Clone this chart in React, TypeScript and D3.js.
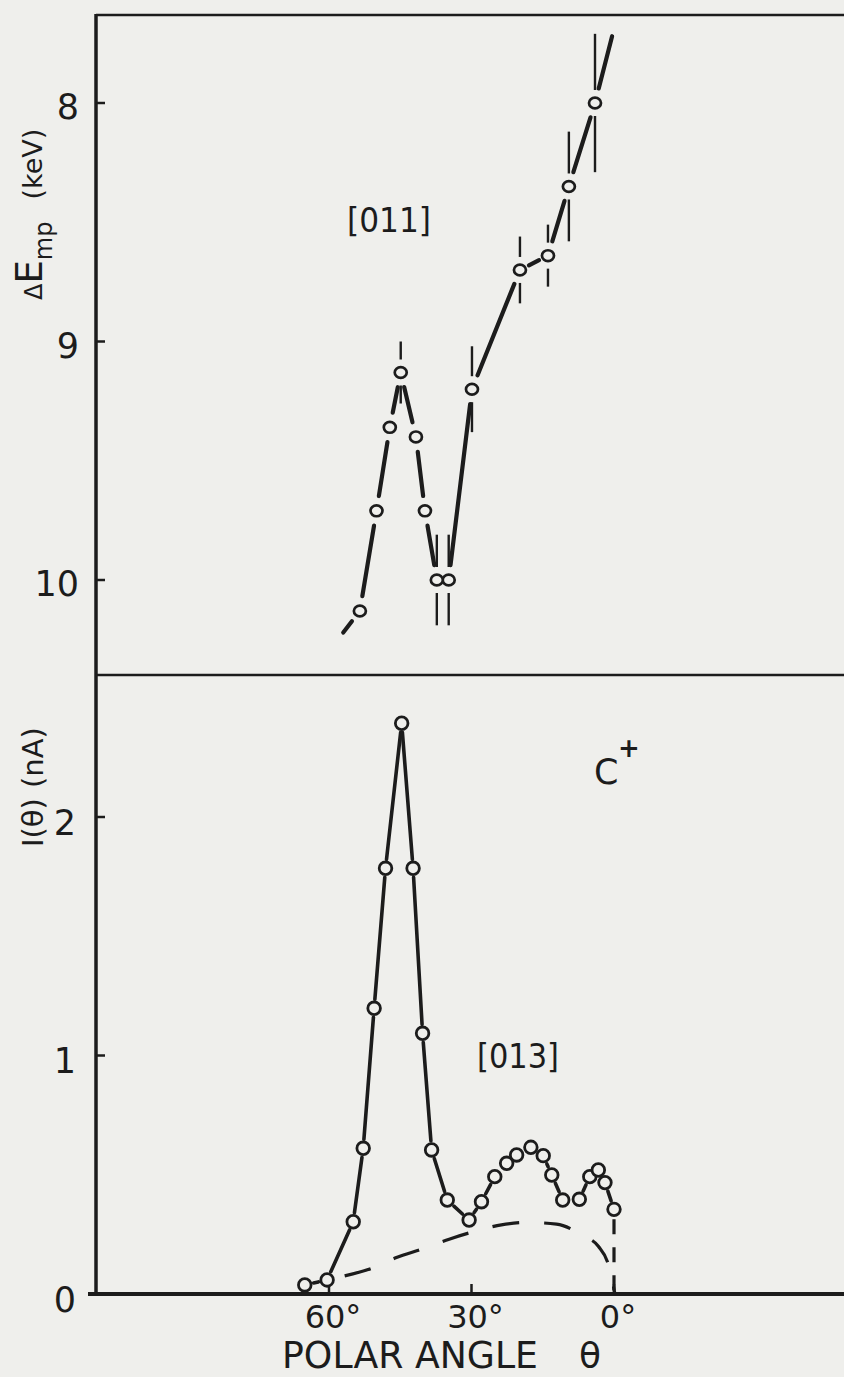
import React, { useEffect, useRef } from "react";
import * as d3 from "d3";

// upper panel: most probable energy loss vs polar angle, [011] channel
const upperTheta = [4.0, 9.5, 13.9, 19.8, 29.9, 34.8, 37.3, 39.8, 41.7, 44.9, 47.2, 50.0, 53.5];
const upperEnergy = [8.0, 8.35, 8.64, 8.7, 9.2, 10.0, 10.0, 9.71, 9.4, 9.13, 9.36, 9.71, 10.13];
const upperError = [0.29, 0.23, 0.13, 0.14, 0.18, 0.19, 0.19, 0, 0, 0.13, 0, 0, 0];
// where the drawn curve runs on past the first / last point
const upperHeadTheta = 0.4;
const upperHeadEnergy = 7.72;
const upperTailTheta = 57.0;
const upperTailEnergy = 10.22;

// lower panel: transmitted current I(theta)
const lowerTheta = [65.1, 60.4, 54.9, 52.8, 50.5, 48.1, 44.7, 42.3, 40.3, 38.4, 35.1, 30.5, 27.9, 25.1, 22.6, 20.5, 17.5, 14.9, 13.1, 10.8, 7.3, 5.1, 3.3, 1.9, 0.0];
const lowerCurrent = [0.038, 0.059, 0.303, 0.611, 1.198, 1.785, 2.393, 1.785, 1.093, 0.604, 0.394, 0.31, 0.387, 0.492, 0.548, 0.583, 0.615, 0.58, 0.499, 0.394, 0.397, 0.492, 0.52, 0.467, 0.355];

// dashed background curve
const bgTheta = [56.7, 50.7, 45.8, 40.5, 34.7, 28.9, 23.7, 18.4, 12.1, 6.5, 3.3, 1.2, -0.2];
const bgCurrent = [0.076, 0.11, 0.153, 0.188, 0.23, 0.265, 0.29, 0.3, 0.293, 0.244, 0.2, 0.125, 0.0];

const energyTicks = [8, 9, 10];
const currentTicks = [0, 1, 2];
const angleTicks = [60, 30, 0];

const W = 844;
const H = 1377;
const paper = "#efefec";
const ink = "#1c1c1c";
const font = "'DejaVu Sans', sans-serif";

function gapped(p, q, g1, g2) {
  const dx = q[0] - p[0];
  const dy = q[1] - p[1];
  const len = Math.hypot(dx, dy);
  if (len <= g1 + g2 + 3) return null;
  return [
    [p[0] + (dx / len) * g1, p[1] + (dy / len) * g1],
    [q[0] - (dx / len) * g2, q[1] - (dy / len) * g2],
  ];
}

const App = () => {
  const svgRef = useRef(null);

  useEffect(() => {
    const svg = d3.select(svgRef.current);
    svg.selectAll("*").remove();

    svg.append("rect").attr("width", W).attr("height", H).attr("fill", paper);

    const left = 96,
      top = 15,
      mid = 675,
      bottom = 1294;

    const x = d3.scaleLinear([60, 0], [329, 614]);
    const yE = d3.scaleLinear([8, 10], [103, 580]);
    const yI = d3.scaleLinear([0, 2], [bottom, 817]);

    // frame
    svg.append("line").attr("x1", left).attr("x2", left).attr("y1", top - 1).attr("y2", bottom + 2)
      .attr("stroke", ink).attr("stroke-width", 3.5);
    svg.append("line").attr("x1", left).attr("x2", W).attr("y1", top).attr("y2", top)
      .attr("stroke", ink).attr("stroke-width", 2.5);
    svg.append("line").attr("x1", left).attr("x2", W).attr("y1", mid).attr("y2", mid)
      .attr("stroke", ink).attr("stroke-width", 2.5);
    svg.append("line").attr("x1", 88).attr("x2", W).attr("y1", bottom).attr("y2", bottom)
      .attr("stroke", ink).attr("stroke-width", 4);

    // y ticks
    svg.selectAll(".etick").data(energyTicks).enter().append("line")
      .attr("x1", left).attr("x2", left + 9).attr("y1", (d) => yE(d)).attr("y2", (d) => yE(d))
      .attr("stroke", ink).attr("stroke-width", 2.5);
    svg.selectAll(".elab").data(energyTicks).enter().append("text")
      .attr("x", 79).attr("y", (d) => yE(d)).attr("dy", "0.47em")
      .attr("text-anchor", "end").attr("font-family", font).attr("font-size", 35)
      .attr("fill", ink).text((d) => d);

    svg.selectAll(".itick").data(currentTicks.filter((d) => d > 0)).enter().append("line")
      .attr("x1", left).attr("x2", left + 9).attr("y1", (d) => yI(d)).attr("y2", (d) => yI(d))
      .attr("stroke", ink).attr("stroke-width", 2.5);
    svg.selectAll(".ilab").data(currentTicks).enter().append("text")
      .attr("x", 76).attr("y", (d) => yI(d)).attr("dy", "0.5em")
      .attr("text-anchor", "end").attr("font-family", font).attr("font-size", 35)
      .attr("fill", ink).text((d) => d);

    // x ticks
    svg.selectAll(".xtick").data(angleTicks).enter().append("line")
      .attr("x1", (d) => x(d)).attr("x2", (d) => x(d)).attr("y1", bottom).attr("y2", bottom - 10)
      .attr("stroke", ink).attr("stroke-width", 2.5);
    svg.selectAll(".xlab").data(angleTicks).enter().append("text")
      .attr("x", (d) => x(d) + 4).attr("y", 1328)
      .attr("text-anchor", "middle").attr("font-family", font).attr("font-size", 32)
      .attr("fill", ink).text((d) => d + "°");

    // axis titles
    svg.append("text").attr("x", 282).attr("y", 1368)
      .attr("font-family", font).attr("font-size", 37).attr("fill", ink)
      .attr("textLength", 256).attr("lengthAdjust", "spacingAndGlyphs")
      .text("POLAR ANGLE");
    svg.append("text").attr("x", 590).attr("y", 1368).attr("text-anchor", "middle")
      .attr("font-family", font).attr("font-size", 36).attr("fill", ink).text("θ");

    const yTitle = svg.append("text")
      .attr("transform", "translate(42,0) rotate(-90)")
      .attr("x", -300).attr("y", 0)
      .attr("font-family", font).attr("fill", ink);
    yTitle.append("tspan").attr("font-size", 24).text("Δ");
    yTitle.append("tspan").attr("font-size", 37).text("E");
    yTitle.append("tspan").attr("font-size", 24).attr("dy", 10).text("mp");
    yTitle.append("tspan").attr("font-size", 27).attr("dy", -10).attr("dx", 22).text("(keV)");

    const iTitle = svg.append("text")
      .attr("transform", "translate(43,0) rotate(-90)")
      .attr("x", -847).attr("y", 0)
      .attr("font-family", font).attr("font-size", 29).attr("fill", ink);
    iTitle.append("tspan").text("I(θ)");
    iTitle.append("tspan").attr("dx", 10).text("(nA)");

    // panel annotations
    svg.append("text").attr("x", 347).attr("y", 232)
      .attr("font-family", font).attr("font-size", 34).attr("fill", ink)
      .attr("textLength", 84).attr("lengthAdjust", "spacingAndGlyphs").text("[011]");
    svg.append("text").attr("x", 477).attr("y", 1068)
      .attr("font-family", font).attr("font-size", 34).attr("fill", ink)
      .attr("textLength", 82).attr("lengthAdjust", "spacingAndGlyphs").text("[013]");
    svg.append("text").attr("x", 594).attr("y", 784)
      .attr("font-family", font).attr("font-size", 35).attr("fill", ink).text("C");
    svg.append("text").attr("x", 629).attr("y", 757).attr("text-anchor", "middle")
      .attr("font-family", font).attr("font-size", 26).attr("font-weight", "bold")
      .attr("fill", ink).text("+");

    // ---- upper panel ----
    const up = upperTheta.map((t, i) => [x(t), yE(upperEnergy[i])]);
    const upSegs = [];
    const head = [x(upperHeadTheta), yE(upperHeadEnergy)];
    const tail = [x(upperTailTheta), yE(upperTailEnergy)];
    upSegs.push(gapped(head, up[0], 0, 15));
    for (let i = 0; i < up.length - 1; i++) {
      const len = Math.hypot(up[i + 1][0] - up[i][0], up[i + 1][1] - up[i][1]);
      const g = Math.min(15, len * 0.32);
      upSegs.push(gapped(up[i], up[i + 1], g, g));
    }
    upSegs.push(gapped(up[up.length - 1], tail, 13, 0));

    svg.selectAll(".useg").data(upSegs.filter(Boolean)).enter().append("line")
      .attr("x1", (d) => d[0][0]).attr("y1", (d) => d[0][1])
      .attr("x2", (d) => d[1][0]).attr("y2", (d) => d[1][1])
      .attr("stroke", ink).attr("stroke-width", 4.2).attr("stroke-linecap", "round");

    // error bars
    const bars = [];
    upperTheta.forEach((t, i) => {
      const err = upperError[i];
      if (!err) return;
      const cx = x(t);
      const cy = yE(upperEnergy[i]);
      const a = yE(upperEnergy[i] - err);
      const b = yE(upperEnergy[i] + err);
      if (cy - 13 - a > 3) bars.push([cx, a, cy - 13]);
      if (b - (cy + 13) > 3) bars.push([cx, cy + 13, b]);
    });
    svg.selectAll(".ebar").data(bars).enter().append("line")
      .attr("x1", (d) => d[0]).attr("x2", (d) => d[0])
      .attr("y1", (d) => d[1]).attr("y2", (d) => d[2])
      .attr("stroke", ink).attr("stroke-width", 2.4);

    svg.selectAll(".upt").data(up).enter().append("ellipse")
      .attr("cx", (d) => d[0]).attr("cy", (d) => d[1]).attr("rx", 6).attr("ry", 5.4)
      .attr("fill", paper).attr("stroke", ink).attr("stroke-width", 2.7);

    // ---- lower panel ----
    const bgLine = d3.line().curve(d3.curveMonotoneX)
      .x((d) => x(d[0])).y((d) => yI(d[1]));
    svg.append("path")
      .datum(bgTheta.map((t, i) => [t, bgCurrent[i]]))
      .attr("d", bgLine).attr("fill", "none")
      .attr("stroke", ink).attr("stroke-width", 3.2)
      .attr("stroke-dasharray", "27,25");

    const lo = lowerTheta.map((t, i) => [x(t), yI(lowerCurrent[i])]);
    const loSegs = [];
    for (let i = 0; i < lo.length - 1; i++) {
      loSegs.push(gapped(lo[i], lo[i + 1], 9, 9));
    }
    svg.selectAll(".lseg").data(loSegs.filter(Boolean)).enter().append("line")
      .attr("x1", (d) => d[0][0]).attr("y1", (d) => d[0][1])
      .attr("x2", (d) => d[1][0]).attr("y2", (d) => d[1][1])
      .attr("stroke", ink).attr("stroke-width", 3.6).attr("stroke-linecap", "round");

    const last = lo[lo.length - 1];
    svg.append("line")
      .attr("x1", last[0]).attr("x2", x(0)).attr("y1", last[1] + 10).attr("y2", yI(0))
      .attr("stroke", ink).attr("stroke-width", 3.2).attr("stroke-dasharray", "15,13");

    svg.selectAll(".lpt").data(lo).enter().append("circle")
      .attr("cx", (d) => d[0]).attr("cy", (d) => d[1]).attr("r", 6.3)
      .attr("fill", paper).attr("stroke", ink).attr("stroke-width", 2.8);
  }, []);

  return (
    <svg
      ref={svgRef}
      width={W}
      height={H}
      style={{ position: "absolute", left: 0, top: 0, display: "block" }}
    ></svg>
  );
};

export default App;
